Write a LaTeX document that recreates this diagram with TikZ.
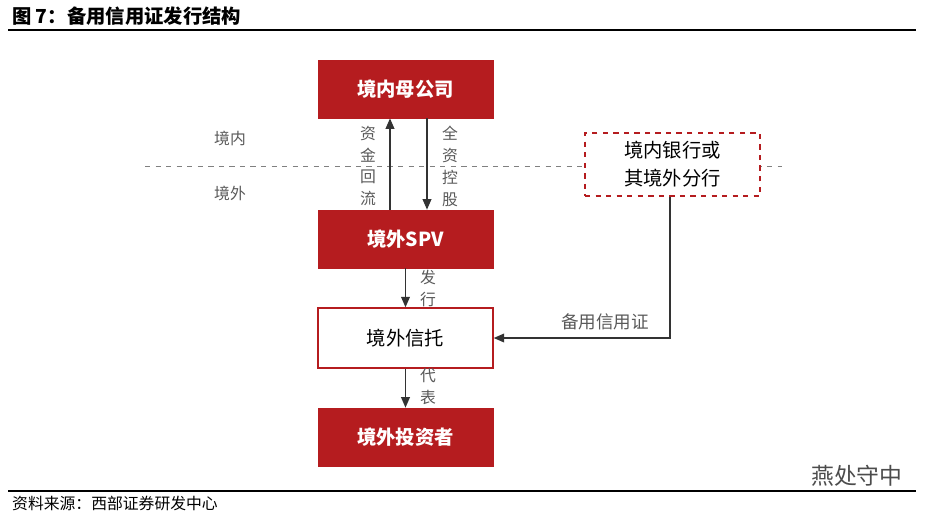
\documentclass[tikz,border=0pt]{standalone}
\usepackage{fontspec}
\setmainfont{Noto Sans CJK SC}
\usetikzlibrary{positioning,arrows.meta}
\definecolor{dkred}{HTML}{B51C1F}
\definecolor{txtgray}{HTML}{595959}
\tikzset{
  redbox/.style={draw=dkred,fill=dkred,text=white,font=\bfseries\fontsize{11}{13}\selectfont,minimum width=175*0.02cm,minimum height=58*0.02cm},
  whitebox/.style={draw=dkred,thick,fill=white,font=\fontsize{11}{13}\selectfont,minimum width=175*0.02cm,minimum height=60*0.02cm},
  vlabel/.style={font=\fontsize{9}{12.5}\selectfont,text=txtgray,align=center},
  flow/.style={-{Triangle[length=6pt,width=5pt]},thick,draw=black!80}
}
\begin{document}
\begin{tikzpicture}[x=0.02cm,y=-0.02cm]
\useasboundingbox (0,0) rectangle (931,518);

% title and rules
\node[anchor=west,font=\bfseries\fontsize{11}{13}\selectfont] (title) at (6,16) {图 7：备用信用证发行结构};
\draw[line width=1.2pt] (8,30) -- (916,30);
\draw[line width=0.8pt] (8,491) -- (916,491);
\node[anchor=west,font=\fontsize{9}{11}\selectfont] (src) at (6,503) {资料来源：西部证券研发中心};
\node[anchor=west,font=\fontsize{13}{15}\selectfont,text=black!70] (wm) at (805,476) {燕处守中};

% boundary
\draw[dashed,draw=gray] (145,166) -- (782,166);
\node[font=\fontsize{9}{11}\selectfont,text=txtgray] (dom) at (230,138) {境内};
\node[font=\fontsize{9}{11}\selectfont,text=txtgray] (abr) at (230,193) {境外};

% node boxes
\node[redbox] (parent) at (405.5,89) {境内母公司};
\node[redbox] (spv) at (405.5,239) {境外SPV};
\node[whitebox] (trust) at (405.5,338) {境外信托};
\node[redbox] (inv) at (405.5,437) {境外投资者};
\node[draw=dkred,thick,dashed,fill=white,minimum width=175*0.02cm,minimum height=63*0.02cm,align=center,font=\fontsize{11}{16}\selectfont] (bank) at (672.5,164.5) {境内银行或\\其境外分行};

% connections
\draw[flow] (spv.north -| 390,0) -- (parent.south -| 390,0);
\draw[flow] (parent.south -| 427,0) -- (spv.north -| 427,0);
\node[vlabel] (back) at (368,166) {资\\金\\回\\流};
\node[vlabel] (own) at (450,166) {全\\资\\控\\股};
\draw[flow] (spv) -- (trust);
\node[vlabel] (iss) at (428,288) {发\\行};
\draw[flow] (trust) -- (inv);
\node[vlabel] (rep) at (428,387) {代\\表};
\draw[flow] (bank.south -| 670,0) |- (trust.east);
\node[vlabel,font=\fontsize{10}{12}\selectfont] (sblc) at (605,322) {备用信用证};
\end{tikzpicture}
\end{document}
